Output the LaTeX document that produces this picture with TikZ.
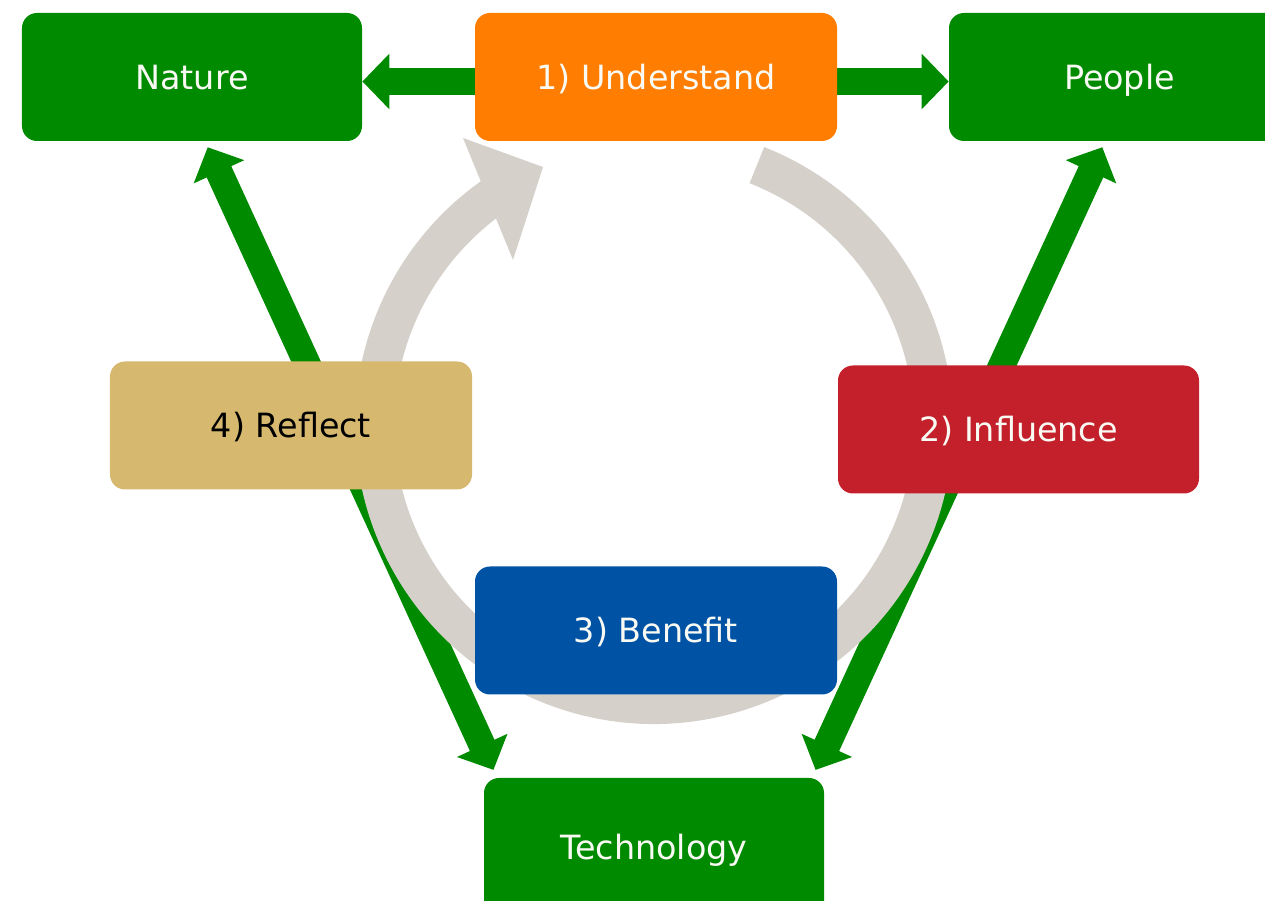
\documentclass[tikz,border=0pt]{standalone}
\usepackage{fontspec}
\setmainfont{DejaVu Sans}
\usetikzlibrary{arrows.meta}
\definecolor{cgreen}{RGB}{0,138,0}
\definecolor{corange}{RGB}{255,125,0}
\definecolor{cred}{RGB}{196,32,43}
\definecolor{cblue}{RGB}{0,82,164}
\definecolor{ctan}{RGB}{214,184,110}
\definecolor{ringgray}{RGB}{213,209,202}
\definecolor{textwhite}{RGB}{250,250,244}
\begin{document}
\begin{tikzpicture}[x=0.2mm,y=0.2mm,
  gtip/.tip={Triangle[width=10.8mm,length=5.4mm]},
  cbox/.style={rectangle, rounded corners=3mm, minimum height=25.6mm, inner sep=0pt,
    font=\fontsize{19}{23}\selectfont, text=textwhite, text height=13.9pt, text depth=0pt},
  garrow/.style={draw=cgreen, line width=5.4mm, -gtip},
  gdouble/.style={draw=cgreen, line width=5.4mm, gtip-gtip},
  ring/.style={draw=ringgray, line width=7.8mm, line cap=butt}
]
\useasboundingbox (0,0) rectangle (1265,901);
\clip (0,0) rectangle (1265,901);

% box positions (names first, drawn on top later)
\path
  node[cbox, minimum width=68mm] (N) at (192,824) {}
  node[cbox, minimum width=72.4mm] (U) at (656,824) {}
  node[cbox, minimum width=68.2mm] (P) at (1119.5,824) {}
  node[cbox, minimum width=72.4mm] (R) at (291,475.5) {}
  node[cbox, minimum width=72.2mm] (I) at (1018.5,471.5) {}
  node[cbox, minimum width=72.4mm] (B) at (656,270.5) {}
  node[cbox, minimum width=68mm, minimum height=27.8mm] (T) at (654,53.5) {};

% green arrows
\draw[garrow] ([yshift=-0.9mm]U.west) -- ([yshift=-0.9mm]N.east);
\draw[garrow] ([yshift=-0.9mm]U.east) -- ([yshift=-0.9mm]P.west);
\draw[gdouble, shorten <=1.3mm, shorten >=1.7mm] ([xshift=2.6mm]N.south) -- ([xshift=-31.4mm]T.north);
\draw[gdouble, shorten <=1.3mm, shorten >=1.7mm] ([xshift=-2.9mm]P.south) -- ([xshift=31.6mm]T.north);

% grey cycle arrow
\coordinate (ringc) at (654,476);
\draw[ring] (ringc) ++(68.4:279.5) arc[start angle=68.4, end angle=-235, radius=279.5];
\fill[ringgray] (463,763) -- (543,734) -- (513,641) -- cycle;

% boxes drawn on top
\node[cbox, fill=cgreen, minimum width=68mm] at (N) {Nature};
\node[cbox, fill=corange, minimum width=72.4mm] at (U) {1) Understand};
\node[cbox, fill=cgreen, minimum width=68.2mm] at (P) {People};
\node[cbox, fill=ctan, text=black, minimum width=72.4mm] at (R) {4) Reflect};
\node[cbox, fill=cred, minimum width=72.2mm] at (I) {2) Influence};
\node[cbox, fill=cblue, minimum width=72.4mm] at (B) {3) Benefit};
\node[cbox, fill=cgreen, minimum width=68mm, minimum height=27.8mm] at (T) {Technology};
\end{tikzpicture}
\end{document}
